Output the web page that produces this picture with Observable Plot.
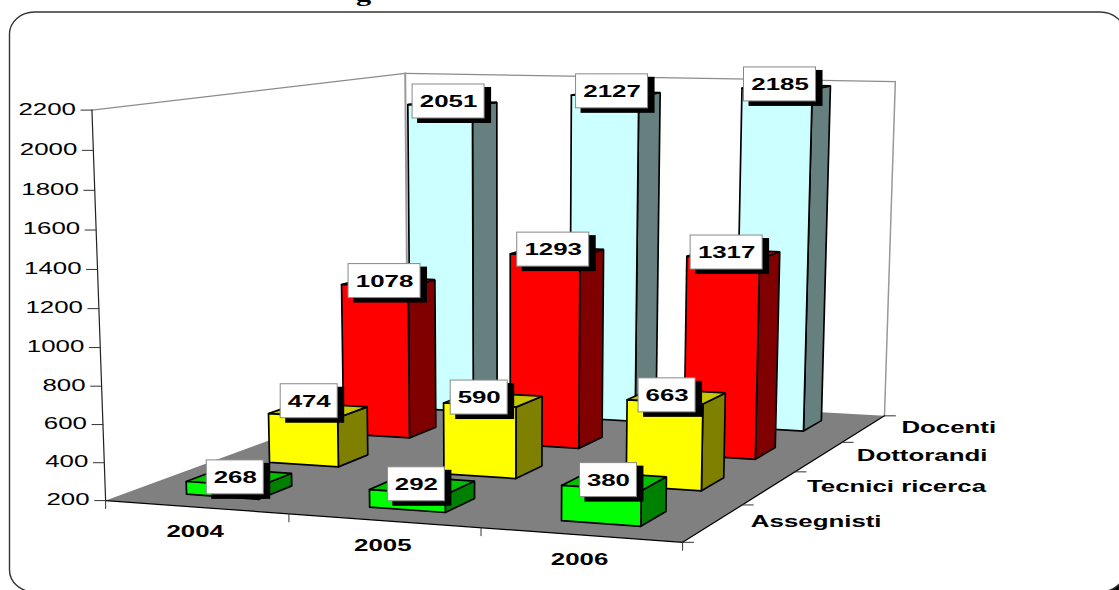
<!DOCTYPE html>
<html>
<head>
<meta charset="utf-8">
<script src="https://cdn.jsdelivr.net/npm/d3@7"></script>
<script src="https://cdn.jsdelivr.net/npm/@observablehq/plot@0.6"></script>
<style>
  html, body { margin: 0; padding: 0; background: #fff; overflow: hidden; }
  svg { display: block; }
</style>
</head>
<body>
<div id="chart"></div>
<script>
// Staff counts per year
const years = ["2004", "2005", "2006"];
const seriesNames = ["Assegnisti", "Tecnici ricerca", "Dottorandi", "Docenti"];
const assegnisti = [268, 292, 380];
const tecnici = [474, 590, 663];
const dottorandi = [1078, 1293, 1317];
const docenti = [2051, 2127, 2185];
const valueTicks = [200, 400, 600, 800, 1000, 1200, 1400, 1600, 1800, 2000, 2200];

// Face colours: front, side, top of each series
const palette = [
  ["#00ff00", "#008000", "#00c000"],
  ["#ffff00", "#808000", "#c8c800"],
  ["#ff0000", "#800000", "#c00000"],
  ["#ccffff", "#668080", "#99c0c0"]
];
const rows = [assegnisti, tecnici, dottorandi, docenti];

// Hand adjustments of the value flags around each bar top, per series and year
const flagNudge = [
  [[-4, 0], [-6, -1], [-6, -1]],
  [[-9, -9], [-14, -2], [-9.5, -1]],
  [[-4, -1], [-4, -2], [-7, -1.5]],
  [[-4, -2], [-4, -2.5], [-6.5, -2.5]]
];

// Camera: reference points of the box (year, series, value) and where they land on the page
const camera = [
  [0, 0, 200, 105, 500], [3, 0, 200, 681, 541], [3, 4, 200, 883, 416], [0, 4, 200, 408, 388],
  [0, 0, 2200, 92, 109], [0, 4, 2200, 404, 73], [3, 4, 2200, 895, 81],
  [1, 0, 200, 289, 513], [2, 0, 200, 480, 527],
  [3, 1, 200, 742, 505], [3, 2, 200, 796, 471], [3, 3, 200, 842, 442],
  [0, 0, 600, 101.5, 425.5], [0, 0, 1200, 98.5, 308], [0, 0, 1600, 96, 230]
];

// Least-squares fit of a projective camera matrix
function fitCamera(points) {
  const n = 11, A = d3.range(n).map(() => new Array(n + 1).fill(0));
  const add = (r, b) => {
    for (let i = 0; i < n; i++) {
      for (let j = 0; j < n; j++) A[i][j] += r[i] * r[j];
      A[i][n] += r[i] * b;
    }
  };
  for (const [u, v, w, px, py] of points) {
    const X = u / 3, Y = v / 4, Z = (w - 200) / 2000, x = px / 1000, y = py / 1000;
    add([X, Y, Z, 1, 0, 0, 0, 0, -x * X, -x * Y, -x * Z], x);
    add([0, 0, 0, 0, X, Y, Z, 1, -y * X, -y * Y, -y * Z], y);
  }
  for (let i = 0; i < n; i++) {
    let p = i;
    for (let k = i + 1; k < n; k++) if (Math.abs(A[k][i]) > Math.abs(A[p][i])) p = k;
    [A[i], A[p]] = [A[p], A[i]];
    for (let k = 0; k < n; k++) {
      if (k === i) continue;
      const f = A[k][i] / A[i][i];
      for (let j = i; j <= n; j++) A[k][j] -= f * A[i][j];
    }
  }
  return A.map((r, i) => r[n] / r[i]);
}
const m = fitCamera(camera);
function project(u, v, w) {
  const X = u / 3, Y = v / 4, Z = (w - 200) / 2000;
  const d = m[8] * X + m[9] * Y + m[10] * Z + 1;
  return [
    1000 * (m[0] * X + m[1] * Y + m[2] * Z + m[3]) / d,
    1000 * (m[4] * X + m[5] * Y + m[6] * Z + m[7]) / d
  ];
}

// A closed polygon mark through projected box corners
const xOf = (d) => d[0], yOf = (d) => d[1];
const poly = (corners, options) =>
  Plot.line([...corners, corners[0]].map((c) => project(...c)),
    {x: xOf, y: yOf, strokeLinejoin: "miter", ...options});
const segment = (from, to, options) =>
  Plot.line([from, to], {x: xOf, y: yOf, ...options});

// Box walls and floor
const maxV = d3.max(valueTicks), minV = d3.min(valueTicks);
const walls = [
  poly([[0, 0, minV], [0, 4, minV], [0, 4, maxV], [0, 0, maxV]], {fill: "#fff", stroke: "none"}),
  poly([[0, 4, minV], [3, 4, minV], [3, 4, maxV], [0, 4, maxV]], {fill: "#fff", stroke: "none"}),
  segment(project(0, 0, maxV), project(0, 4, maxV), {stroke: "#8c8c8c", strokeWidth: 1.2}),
  segment(project(0, 4, maxV), project(3, 4, maxV), {stroke: "#8c8c8c", strokeWidth: 1.2}),
  segment(project(3, 4, maxV), project(3, 4, minV), {stroke: "#999", strokeWidth: 1.5}),
  segment(project(0, 4, maxV), project(0, 4, minV), {stroke: "#999", strokeWidth: 2}),
  poly([[0, 0, minV], [3, 0, minV], [3, 4, minV], [0, 4, minV]], {fill: "#808080", stroke: "none"}),
  segment(project(0, 0, minV), project(3, 0, minV), {stroke: "#000", strokeWidth: 1.2}),
  segment(project(3, 0, minV), project(3, 4, minV), {stroke: "#000", strokeWidth: 1.2}),
  segment(project(0, 0, maxV), project(0, 0, minV), {stroke: "#222", strokeWidth: 1.2})
];

// Bars, back row first; each bar fills the middle 40% of its cell
const bars = [];
const labels = [];
for (let s = rows.length - 1; s >= 0; s--) {
  rows[s].forEach((value, i) => {
    const u0 = i + 0.3, u1 = i + 0.7, v0 = s + 0.3, v1 = s + 0.7;
    const [front, side, top] = palette[s];
    const common = {stroke: "#000", strokeWidth: 1.7};
    bars.push(
      poly([[u1, v0, minV], [u1, v1, minV], [u1, v1, value], [u1, v0, value]], {fill: side, ...common}),
      poly([[u0, v0, value], [u1, v0, value], [u1, v1, value], [u0, v1, value]], {fill: top, ...common}),
      poly([[u0, v0, minV], [u1, v0, minV], [u1, v0, value], [u0, v0, value]], {fill: front, ...common})
    );
    const [cx, cy] = project(i + 0.5, s + 0.5, value);
    const [nx, ny] = flagNudge[s][i];
    labels.push({value: String(value), x: cx + nx, y: cy + ny, half: value >= 1000 ? 36 : 28.5});
  });
}

const tickStyle = {stroke: "#333", strokeWidth: 1};
const valueAxis = valueTicks.map((t) => {
  const [x, y] = project(0, 0, t);
  return segment([x - 11, y], [x, y], tickStyle);
});
const yearTicks = d3.range(years.length + 1).map((i) => {
  const [x, y] = project(i, 0, minV);
  return segment([x, y], [x, y + 8], tickStyle);
});
const seriesTicks = d3.range(seriesNames.length + 1).map((j) => {
  const [x, y] = project(3, j, minV);
  return segment([x, y], [x + 11, y], tickStyle);
});

const textBase = {fontFamily: "Liberation Sans, Arial, sans-serif", fontSize: 17, fill: "#000"};
const plot = Plot.plot({
  width: 1119,
  height: 590,
  margin: 0,
  style: {background: "#fff"},
  x: {domain: [0, 1119], range: [0, 1119], axis: null},
  y: {domain: [0, 590], range: [0, 590], axis: null},
  marks: [
    // Cut-off descender of the heading above the frame
    Plot.text(["g"], {x: () => 363, y: () => -6, text: (d) => d, fontFamily: "Liberation Serif, serif",
      fontWeight: "bold", fontSize: 20, fill: "#000", className: "wide"}),
    // Frame with its black drop shadow, which shows only past the rounded lower-right corner
    Plot.rect([0], {x1: () => 60, x2: () => 1135, y1: () => 30, y2: () => 600, fill: "#000"}),
    Plot.rect([0], {x1: () => 9.5, x2: () => 1125, y1: () => 12, y2: () => 592,
      rx: 25, ry: 22, fill: "#fff", stroke: "#333", strokeWidth: 1.4}),
    ...walls,
    ...bars,
    ...valueAxis,
    ...yearTicks,
    ...seriesTicks,
    Plot.text(valueTicks, {
      x: (t) => project(0, 0, t)[0] - 16, y: (t) => project(0, 0, t)[1] - 1,
      text: (t) => String(t), textAnchor: "end", ...textBase, className: "wide"
    }),
    Plot.text(years, {
      x: (d, i) => project(i + 0.5, 0, minV)[0] - 1, y: (d, i) => project(i + 0.5, 0, minV)[1] + 24.5,
      text: (d) => d, fontWeight: "bold", ...textBase, className: "wide"
    }),
    Plot.text(seriesNames, {
      x: (d, j) => project(3, j + 0.5, minV)[0] + 37.5, y: (d, j) => project(3, j + 0.5, minV)[1] - 1,
      text: (d) => d, textAnchor: "start", fontWeight: "bold", ...textBase, className: "wide"
    }),
    // Value flags with their drop shadows
    Plot.rect(labels, {x1: (d) => d.x - d.half + 5, x2: (d) => d.x + d.half + 7, y1: (d) => d.y - 14, y2: (d) => d.y + 22, fill: "#000"}),
    Plot.rect(labels, {x1: (d) => d.x - d.half, x2: (d) => d.x + d.half, y1: (d) => d.y - 17, y2: (d) => d.y + 17,
      fill: "#fff", stroke: "#888", strokeWidth: 1}),
    Plot.text(labels, {x: "x", y: "y", text: "value", fontWeight: "bold", ...textBase, className: "wide"})
  ]
});
document.getElementById("chart").append(plot);

// The lettering is set wide: stretch the glyphs horizontally
d3.selectAll("svg g.wide text").each(function () {
  const length = this.getComputedTextLength();
  this.setAttribute("textLength", length * 1.52);
  this.setAttribute("lengthAdjust", "spacingAndGlyphs");
});
</script>
</body>
</html>
